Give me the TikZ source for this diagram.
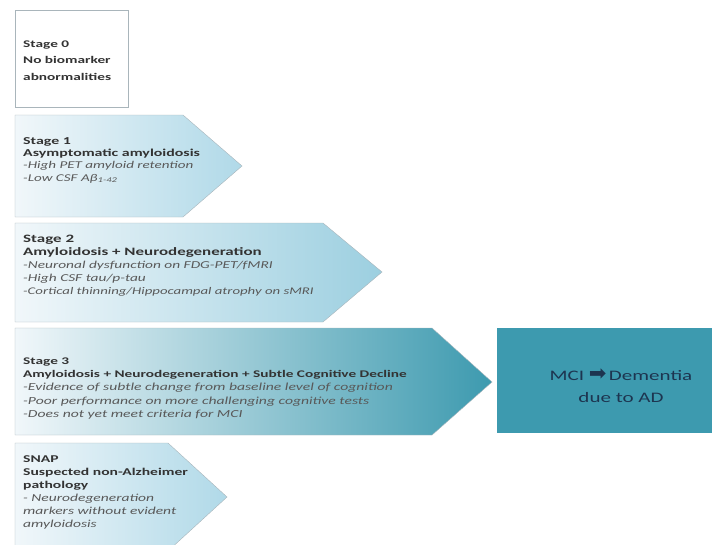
\documentclass[tikz,border=0pt]{standalone}
\usepackage{fontspec}
\setmainfont{Carlito}
\newfontfamily\widebf{Carlito}[FakeStretch=1.5]
\newfontfamily\wideit{Carlito}[FakeStretch=1.45]
\newfontfamily\arrowfont{DejaVu Sans}
\usetikzlibrary{positioning}
\definecolor{paleblue}{HTML}{B0D9E8}
\definecolor{midblue}{HTML}{9CCFE0}
\definecolor{tealbox}{HTML}{3D9AAF}
\definecolor{offwhite}{HTML}{F1F7FA}
\definecolor{navy}{HTML}{1D3550}
\definecolor{edge}{HTML}{A9B5BB}
\tikzset{
  stagetext/.style={anchor=base west, align=left, inner sep=0pt, text=black!80},
}
% heading and item lines of a stage
\newcommand{\stagehd}[2]{{\widebf\bfseries\fontsize{#1}{#1}\selectfont #2}}
\newcommand{\stageitem}[2]{{\wideit\itshape\color{black!65}\fontsize{#1}{#1}\selectfont #2}}

\begin{document}
\begin{tikzpicture}[x=1pt,y=-1pt]
        \useasboundingbox (0,0) rectangle (715,544);
        % stage 0 (text placed by its last baseline)
        \draw[edge, fill=white] (15,10) rectangle (128,107);
        \node[stagetext, font=\fontsize{10.2}{16.7}\selectfont] (stage0) at (23,80.5) {\stagehd{10.2}{Stage 0}\\\stagehd{10.2}{No biomarker}\\\stagehd{10.2}{abnormalities}};
        % stage 1
        \shade[draw=edge, left color=offwhite, right color=paleblue] (15,115) -- (183,115) -- (242,166) -- (183,217) -- (15,217) -- cycle;
        \node[stagetext, font=\fontsize{10.5}{12.3}\selectfont] (stage1) at (23,181) {\stagehd{10.6}{Stage 1}\\\stagehd{10.6}{Asymptomatic amyloidosis}\\\stageitem{10.4}{-High PET amyloid retention}\\\stageitem{10.4}{-Low CSF Aβ\textsubscript{1-42}}};
        % stage 2
        \shade[draw=edge, left color=offwhite, right color=midblue] (15,223) -- (323,223) -- (382,272) -- (323,322) -- (15,322) -- cycle;
        \node[stagetext, font=\fontsize{10.5}{13}\selectfont] (stage2) at (23,294) {\stagehd{11.3}{Stage 2}\\\stagehd{11.3}{Amyloidosis + Neurodegeneration}\\\stageitem{10.6}{-Neuronal dysfunction on FDG-PET/fMRI}\\\stageitem{10.6}{-High CSF tau/p-tau}\\\stageitem{10.2}{-Cortical thinning/Hippocampal atrophy on sMRI}};
        % stage 3
        \shade[draw=edge, left color=offwhite, right color=tealbox] (15,328) -- (432,328) -- (492,382) -- (432,435) -- (15,435) -- cycle;
        \node[stagetext, font=\fontsize{10.5}{13.3}\selectfont] (stage3) at (23,417.5) {\stagehd{10.2}{Stage 3}\\\stagehd{10.2}{Amyloidosis + Neurodegeneration + Subtle Cognitive Decline}\\\stageitem{10.8}{-Evidence of subtle change from baseline level of cognition}\\\stageitem{10.8}{-Poor performance on more challenging cognitive tests}\\\stageitem{10.8}{-Does not yet meet criteria for MCI}};
        % MCI / dementia
        \fill[tealbox] (497,328) rectangle (712,433);
        \node[align=center, text=navy, font=\wideit\fontsize{14.5}{22}\selectfont] (mci) at (621,386) {MCI {\arrowfont\fontsize{21}{22}\selectfont ➡}\,Dementia\\due to AD};
        % SNAP
        \shade[draw=edge, left color=offwhite, right color=paleblue] (15,443) -- (168,443) -- (227,497) -- (168,551) -- (15,551) -- cycle;
        \node[stagetext, font=\fontsize{10.5}{13}\selectfont] (snap) at (23,527) {\stagehd{10.4}{SNAP}\\\stagehd{10.4}{Suspected non-Alzheimer}\\\stagehd{10.4}{pathology}\\\stageitem{10.7}{- Neurodegeneration}\\\stageitem{10.7}{markers without evident}\\\stageitem{10.7}{amyloidosis}};
    \end{tikzpicture}
\end{document}
